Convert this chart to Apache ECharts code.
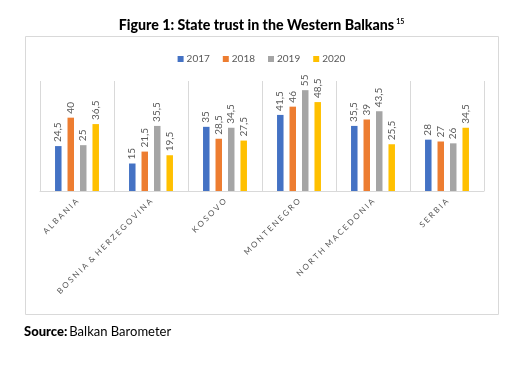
<!DOCTYPE html>
<html><head><meta charset="utf-8">
<script src="https://cdn.jsdelivr.net/npm/echarts@6/dist/echarts.min.js"></script>
<style>html,body{margin:0;padding:0;background:#fff}#c{width:523px;height:369px}</style>
</head><body><div id="c"></div>
<script>
var categories = ['A L B A N I A', 'B O S N I A  &  H E R Z E G O V I N A', 'K O S O V O', 'M O N T E N E G R O', 'N O R T H  M A C E D O N I A', 'S E R B I A'];
var years = ['2017', '2018', '2019', '2020'];
var v2017 = [24.5, 15, 35, 41.5, 35.5, 28];
var v2018 = [40, 21.5, 28.5, 46, 39, 27];
var v2019 = [25, 35.5, 34.5, 55, 43.5, 26];
var v2020 = [36.5, 19.5, 27.5, 48.5, 25.5, 34.5];
var colors = ['#4472C4', '#ED7D31', '#A5A5A5', '#FFC000'];
var seriesData = [v2017, v2018, v2019, v2020];

var chart = echarts.init(document.getElementById('c'));
var font = 'Lato, "Open Sans", sans-serif';
chart.setOption({
  animation: false,
  color: colors,
  textStyle: {fontFamily: font},
  title: {
    text: '{a|Figure 1: State trust in the Western Balkans}{s|15}',
    left: 'center', top: 13,
    textStyle: {
      rich: {
        a: {fontSize: 14.2, fontWeight: 900, color: '#000', fontFamily: font},
        s: {fontSize: 7, fontWeight: 'bold', color: '#000', fontFamily: font, verticalAlign: 'top', padding: [0,0,8,2]}
      }
    }
  },
  legend: {
    data: years, top: 49, left: 'center',
    itemWidth: 6, itemHeight: 6, itemGap: 13, icon: 'rect',
    textStyle: {fontSize: 10, color: '#595959', fontFamily: font, padding: [0,0,0,-2]}
  },
  grid: {left: 40, right: 39, top: 81, bottom: 178},
  xAxis: {
    type: 'category', data: categories,
    axisLine: {lineStyle: {color: '#d9d9d9'}},
    axisTick: {show: false},
    splitLine: {show: true, lineStyle: {color: '#d9d9d9'}},
    axisLabel: {rotate: 45, interval: 0, margin: 9, fontSize: 8, color: '#595959', fontFamily: font}
  },
  yAxis: {
    type: 'value', min: 0, max: 60,
    axisLine: {show: false}, axisTick: {show: false}, axisLabel: {show: false}, splitLine: {show: false}
  },
  series: seriesData.map(function (d, i) {
    return {
      name: years[i], type: 'bar', data: d, barWidth: 6.5, barGap: '92%',
      label: {
        show: true, position: 'top', rotate: 90, align: 'left', verticalAlign: 'middle', distance: 4,
        fontSize: 10, color: '#595959', fontFamily: font,
        formatter: function (p) { return String(p.value).replace('.', ','); }
      }
    };
  }),
  graphic: [
    {type: 'rect', shape: {x: 25.5, y: 36.5, width: 473, height: 278}, style: {fill: 'none', stroke: '#d9d9d9', lineWidth: 1}, silent: true, z: -1},
    {type: 'text', left: 24, top: 325, style: {
      text: '{b|Source:}{r|Balkan Barometer}',
      rich: {
        b: {fontSize: 13, fontWeight: 900, fill: '#000', fontFamily: font, padding: [0,2,0,0]},
        r: {fontSize: 13, fill: '#000', fontFamily: font}
      }
    }}
  ]
});
</script></body></html>
